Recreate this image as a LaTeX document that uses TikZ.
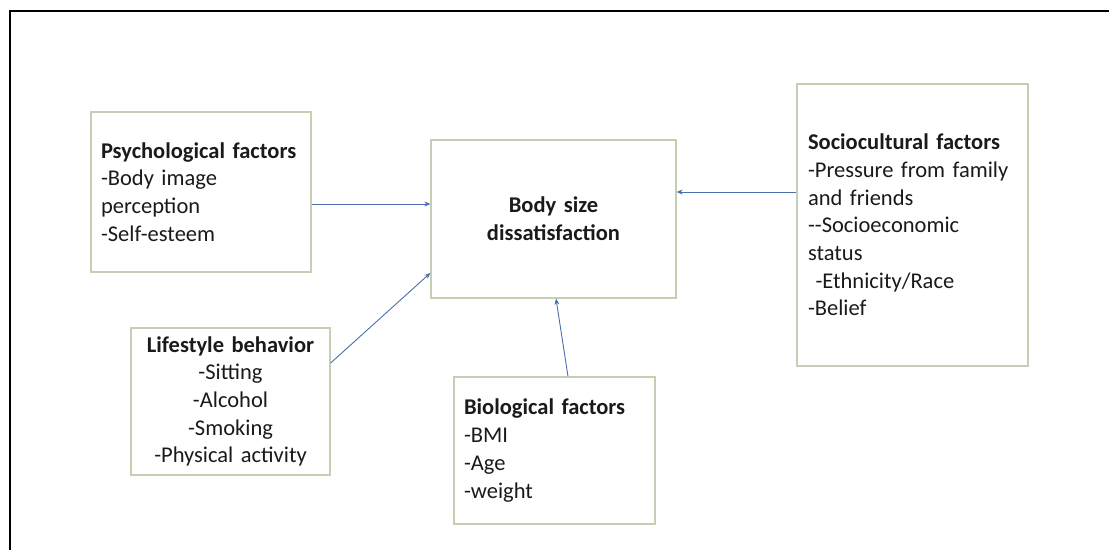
\documentclass[tikz,border=0pt]{standalone}
\usepackage{fontspec}
\setmainfont{Carlito}
\usetikzlibrary{arrows.meta}
\definecolor{boxc}{HTML}{C4CFB4}
\definecolor{arrc}{HTML}{4A6DB0}
\definecolor{txtc}{HTML}{1A1A1A}
\begin{document}
\begin{tikzpicture}[x=1pt,y=-1pt,
  box/.style={draw=boxc, line width=1.3pt, rectangle, inner xsep=10pt, inner ysep=0pt,
    text=txtc, font=\fontsize{22.5}{27.7}\selectfont},
  conn/.style={draw=arrc, line width=0.9pt, -{Stealth[length=6pt,width=5pt]}}]
\useasboundingbox (0,0) rectangle (1109,550);
\draw[line width=2pt] (10,550) -- (10,11) -- (1109,11);

\node[box, text width=200pt, minimum height=160pt, align=left] (psy) at (201,192)
  {\textbf{Psychological factors}\\-Body image\\perception\\-Self-esteem};
\node[box, text width=225pt, minimum height=158pt, align=center] (cen) at (553.5,219)
  {\textbf{Body size}\\\textbf{dissatisfaction}};
\node[box, text width=209pt, inner xsep=11pt, minimum height=282pt, align=left] (soc) at (912.5,225)
  {\textbf{Sociocultural factors}\\-Pressure from family\\and friends\\-{}-Socioeconomic\\status\\\ -Ethnicity/Race\\-Belief};
\node[box, text width=179pt, minimum height=147pt, align=center] (life) at (230.5,401.5)
  {\textbf{Lifestyle behavior}\\-Sitting\\-Alcohol\\-Smoking\\-Physical activity};
\node[box, text width=181pt, minimum height=147pt, align=left] (bio) at (554.5,450.5)
  {\textbf{Biological factors}\\-BMI\\-Age\\-weight};

\draw[conn] ([yshift=-12pt]psy.east) -- ([yshift=-12pt]psy.east -| cen.west);
\draw[conn] ([yshift=33pt]soc.west) -- ([yshift=33pt]soc.west -| cen.east);
\draw[conn] ([yshift=38.5pt]life.east) -- ([yshift=-54pt]cen.west);
\draw[conn] ([xshift=13.5pt]bio.north) -- ([xshift=2.5pt]cen.south);
\end{tikzpicture}
\end{document}
